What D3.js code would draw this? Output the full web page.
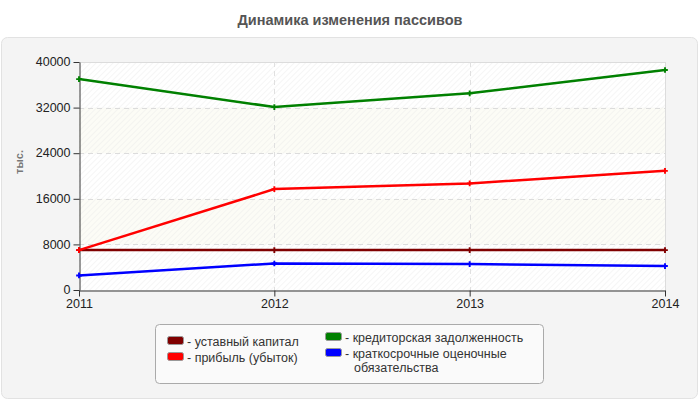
<!DOCTYPE html>
<html>
<head>
<meta charset="utf-8">
<script src="https://cdn.jsdelivr.net/npm/d3@7"></script>
<style>
  body { margin: 0; background: #fff; }
  svg { display: block; font-family: "Liberation Sans", Arial, sans-serif; }
</style>
</head>
<body>
<div id="chart"></div>
<script>
// data
const years = ["2011", "2012", "2013", "2014"];
const seriesNames = ["уставный капитал", "прибыль (убыток)", "кредиторская задолженность", "краткосрочные оценочные обязательства"];
const seriesColors = ["#800000", "#ff0000", "#008000", "#0000ff"];
const ustavny = [7000, 7000, 7000, 7000];
const pribyl = [7000, 17700, 18700, 20900];
const kreditor = [37000, 32100, 34500, 38600];
const kratkosroch = [2550, 4650, 4550, 4200];
const yTicks = [0, 8000, 16000, 24000, 32000, 40000];

const allSeries = [ustavny, pribyl, kreditor, kratkosroch];

const W = 700, H = 400;
const margin = { left: 79, right: 35, top: 62, bottom: 110 };

const svg = d3.select("#chart").append("svg")
    .attr("width", W)
    .attr("height", H);

const defs = svg.append("defs");
const pat = defs.append("pattern")
    .attr("id", "hatch")
    .attr("patternUnits", "userSpaceOnUse")
    .attr("width", 4)
    .attr("height", 4)
    .attr("patternTransform", "rotate(45)");
pat.append("line")
    .attr("x1", 0).attr("y1", 0).attr("x2", 0).attr("y2", 4)
    .attr("stroke", "#e8e8e8")
    .attr("stroke-width", 1);

// outer panel
svg.append("rect")
    .attr("x", 1.5).attr("y", 37.5)
    .attr("width", W - 4).attr("height", H - 39)
    .attr("rx", 6)
    .attr("fill", "#f4f4f4")
    .attr("stroke", "#e2e2e2");

svg.append("text")
    .attr("x", W / 2).attr("y", 25)
    .attr("text-anchor", "middle")
    .attr("font-size", 14.5)
    .attr("font-weight", "bold")
    .attr("fill", "#555")
    .text("Динамика изменения пассивов");

const x = d3.scalePoint()
    .domain(years)
    .range([margin.left, W - margin.right]);

const y = d3.scaleLinear()
    .domain([0, 40000])
    .range([H - margin.bottom, margin.top]);

const plotW = (W - margin.right) - margin.left;

// background bands
const g = svg.append("g");
for (let i = 0; i < yTicks.length - 1; i++) {
    g.append("rect")
        .attr("x", margin.left)
        .attr("y", y(yTicks[i + 1]))
        .attr("width", plotW)
        .attr("height", y(yTicks[i]) - y(yTicks[i + 1]))
        .attr("fill", i % 2 === 1 ? "#fcfcf6" : "#ffffff");
}
g.append("rect")
    .attr("x", margin.left).attr("y", y(40000))
    .attr("width", plotW).attr("height", y(0) - y(40000))
    .attr("fill", "url(#hatch)")
    .attr("opacity", 0.8);

// grid
g.selectAll(".hgrid").data(yTicks.slice(1)).join("line")
    .attr("x1", margin.left).attr("x2", W - margin.right)
    .attr("y1", d => Math.round(y(d)) + 0.5).attr("y2", d => Math.round(y(d)) + 0.5)
    .attr("stroke", "#dcdcdc")
    .attr("stroke-dasharray", d => d === 40000 ? null : "5,4");
g.selectAll(".vgrid").data(years.slice(1)).join("line")
    .attr("x1", d => Math.round(x(d)) + 0.5).attr("x2", d => Math.round(x(d)) + 0.5)
    .attr("y1", y(40000)).attr("y2", y(0))
    .attr("stroke", d => d === "2014" ? "#dcdcdc" : "#e0e0e0")
    .attr("stroke-dasharray", d => d === "2014" ? null : "5,4");

// axes
const yAxis = svg.append("g")
    .attr("transform", `translate(${margin.left + 0.5},0)`)
    .call(d3.axisLeft(y).tickValues(yTicks).tickFormat(d3.format("d"))
        .tickSize(6).tickSizeOuter(0).tickPadding(3));
const xAxis = svg.append("g")
    .attr("transform", `translate(0,${H - margin.bottom + 0.5})`)
    .call(d3.axisBottom(x).tickSize(6).tickSizeOuter(0).tickPadding(3));
[yAxis, xAxis].forEach(a => {
    a.select(".domain").attr("stroke", "#333");
    a.selectAll(".tick line").attr("stroke", "#333");
    a.selectAll(".tick text")
        .attr("fill", "#222")
        .attr("font-size", 12.5)
        .attr("font-family", "Liberation Sans, Arial, sans-serif");
});
yAxis.selectAll(".tick text").attr("dy", "0.3em");

svg.append("text")
    .attr("transform", "translate(23,162) rotate(-90)")
    .attr("text-anchor", "middle")
    .attr("font-size", 11)
    .attr("font-weight", "bold")
    .attr("fill", "#777")
    .text("тыс.");

// lines
const line = d3.line()
    .x((d, i) => x(years[i]))
    .y(d => y(d));

allSeries.forEach((vals, si) => {
    svg.append("path")
        .datum(vals)
        .attr("fill", "none")
        .attr("stroke", seriesColors[si])
        .attr("stroke-width", 2.5)
        .attr("d", line);
    svg.selectAll(".m" + si).data(vals).join("path")
        .attr("d", d3.symbol().type(d3.symbolCross).size(18))
        .attr("transform", (d, i) => `translate(${x(years[i])},${y(d)})`)
        .attr("fill", seriesColors[si]);
});

// legend
const leg = svg.append("g");
leg.append("rect")
    .attr("x", 155.5).attr("y", 324.5)
    .attr("width", 388).attr("height", 59)
    .attr("rx", 4)
    .attr("fill", "#fafafa")
    .attr("stroke", "#aaa");

const legPos = [
    { x: 167, y: 341 },
    { x: 167, y: 357 },
    { x: 325, y: 337 },
    { x: 325, y: 353 }
];
seriesNames.forEach((name, i) => {
    const p = legPos[i];
    leg.append("rect")
        .attr("x", p.x + 0.5).attr("y", p.y - 4.5)
        .attr("width", 16).attr("height", 8)
        .attr("rx", 2)
        .attr("fill", seriesColors[i])
        .attr("stroke", "#999");
    const t = leg.append("text")
        .attr("x", p.x + 20).attr("y", p.y + 4.5)
        .attr("font-size", 12.5)
        .attr("fill", "#333");
    if (i === 3) {
        t.append("tspan").text("- краткосрочные оценочные");
        t.append("tspan").attr("x", p.x + 29).attr("dy", 14.5).text("обязательства");
    } else {
        t.text("- " + name);
    }
});
</script>
</body>
</html>
